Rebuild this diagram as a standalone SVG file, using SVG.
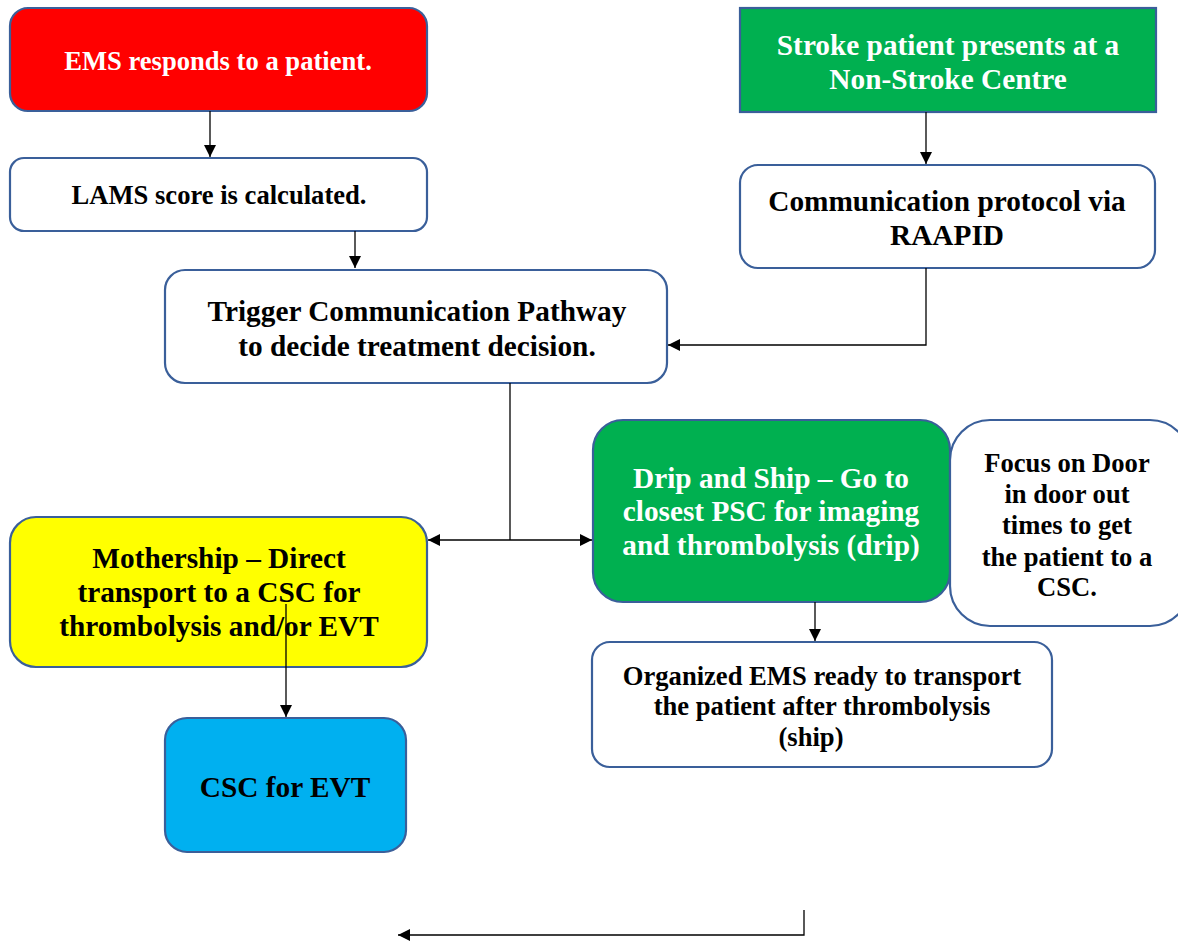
<svg xmlns="http://www.w3.org/2000/svg" width="1178" height="944" viewBox="0 0 1178 944">
<style>
.box{stroke:#3A5F9A;stroke-width:2.2}
.t{font-family:"Liberation Serif","Times New Roman",serif;font-weight:bold;text-anchor:middle}
.L{font-size:29.3px}
.S{font-size:26.6px}
.w{fill:#fff}
.k{fill:#000}
.c{fill:none;stroke:#000;stroke-width:1.3}
</style>
<defs>
<marker id="ah" viewBox="0 0 10 10" refX="10" refY="5" markerWidth="12" markerHeight="12" markerUnits="userSpaceOnUse" orient="auto">
<path d="M0,0 L10,5 L0,10 z" fill="#000"/>
</marker>
</defs>
<rect width="1178" height="944" fill="#fff"/>
<g id="ems">
<rect class="box" x="10" y="8" width="417" height="103" rx="18" fill="#FF0000"/>
<text class="t w S" x="218" y="70">EMS responds to a patient.</text>
</g>
<g id="lams">
<rect class="box" x="10" y="158" width="417" height="73" rx="14" fill="#fff"/>
<text class="t k S" x="219" y="204">LAMS score is calculated.</text>
</g>
<g id="trigger">
<rect class="box" x="165" y="270" width="502" height="113" rx="20" fill="#fff"/>
<text class="t k L" x="417" y="321">Trigger Communication Pathway</text>
<text class="t k L" x="417" y="356">to decide treatment decision.</text>
</g>
<g id="stroke">
<rect class="box" x="740" y="8" width="416" height="104" fill="#00B050"/>
<text class="t w L" x="948" y="55">Stroke patient presents at a</text>
<text class="t w L" x="948" y="89">Non-Stroke Centre</text>
</g>
<g id="communication">
<rect class="box" x="740" y="165" width="415" height="103" rx="18" fill="#fff"/>
<text class="t k L" x="947" y="211">Communication protocol via</text>
<text class="t k L" x="947" y="245">RAAPID</text>
</g>
<g id="mothership">
<rect class="box" x="10" y="517" width="417" height="150" rx="26" fill="#FFFF00"/>
<text class="t k L" x="219" y="568">Mothership – Direct</text>
<text class="t k L" x="219" y="602">transport to a CSC for</text>
<text class="t k L" x="219" y="636">thrombolysis and/or EVT</text>
</g>
<g id="drip">
<rect class="box" x="593" y="420" width="357" height="182" rx="30" fill="#00B050"/>
<text class="t w L" x="771" y="488">Drip and Ship – Go to</text>
<text class="t w L" x="771" y="521">closest PSC for imaging</text>
<text class="t w L" x="771" y="555">and thrombolysis (drip)</text>
</g>
<g id="focus">
<rect class="box" x="950" y="420" width="240" height="206" rx="40" fill="#fff"/>
<text class="t k S" x="1067" y="472">Focus on Door</text>
<text class="t k S" x="1067" y="503">in door out</text>
<text class="t k S" x="1067" y="534">times to get</text>
<text class="t k S" x="1067" y="566">the patient to a</text>
<text class="t k S" x="1067" y="596">CSC.</text>
</g>
<g id="organized">
<rect class="box" x="592" y="642" width="460" height="125" rx="18" fill="#fff"/>
<text class="t k S" x="822" y="685">Organized EMS ready to transport</text>
<text class="t k S" x="822" y="715">the patient after thrombolysis</text>
<text class="t k S" x="811" y="746">(ship)</text>
</g>
<g id="csc">
<rect class="box" x="165" y="718" width="241" height="134" rx="22" fill="#00B0F0"/>
<text class="t k L" x="285" y="797">CSC for EVT</text>
</g>
<g id="connectors">
<path class="c" d="M210,111 V157" marker-end="url(#ah)"/>
<path class="c" d="M355,231 V268" marker-end="url(#ah)"/>
<path class="c" d="M926,112 V164" marker-end="url(#ah)"/>
<path class="c" d="M926,268 V345 H668" marker-end="url(#ah)"/>
<path class="c" d="M510,383 V540"/>
<path class="c" d="M510,540 H428" marker-end="url(#ah)"/>
<path class="c" d="M510,540 H592" marker-end="url(#ah)"/>
<path class="c" d="M286,604 V717" marker-end="url(#ah)"/>
<path class="c" d="M815,602 V641" marker-end="url(#ah)"/>
<path class="c" d="M804,910 V935 H398" marker-end="url(#ah)"/>
</g>
</svg>
